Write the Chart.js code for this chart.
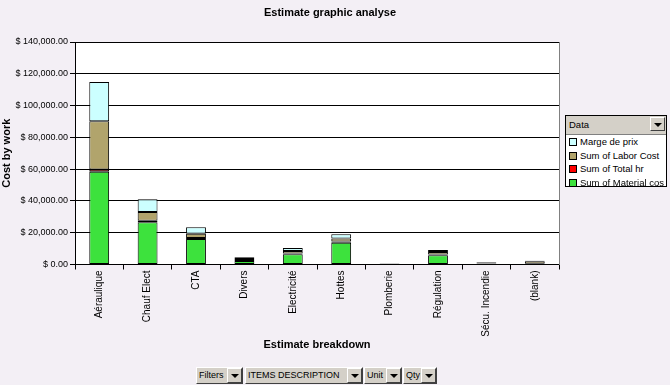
<!DOCTYPE html>
<html>
<head>
<meta charset="utf-8">
<script src="https://cdn.jsdelivr.net/npm/chart.js@4.4.1/dist/chart.umd.min.js"></script>
<style>
  html, body { margin: 0; padding: 0; }
  body { width: 670px; height: 385px; overflow: hidden; background: #f3eff5; font-family: Arial, "Liberation Sans", sans-serif; }
  #wrap { position: relative; width: 670px; height: 385px; }
  canvas { position: absolute; left: 0; top: 0; }
  .legend { position: absolute; left: 565px; top: 115px; width: 102px; height: 72px; border: 1px solid #000; background: #fff; box-sizing: border-box; }
  .lhead { height: 18px; background: #d4d0c8; border-bottom: 1px solid #808080; position: relative; font-size: 9.5px; line-height: 18px; padding-left: 3px; }
  .dd { position: absolute; top: 1px; right: 1px; width: 15px; height: 14px; background: #d4d0c8; border: 1px solid; border-color: #fff #404040 #404040 #fff; box-sizing: border-box; }
  .dd:after { content: ""; position: absolute; left: 3px; top: 5px; border-left: 4px solid transparent; border-right: 4px solid transparent; border-top: 4px solid #000; }
  .litem { height: 13.5px; font-size: 9.5px; line-height: 13.5px; white-space: nowrap; overflow: hidden; padding-left: 3px; }
  .sw { display: inline-block; width: 6px; height: 6px; border: 1px solid #000; margin-right: 3px; vertical-align: -1px; }
  .fbtn { position: absolute; top: 367px; height: 17px; background: #d4d0c8; border: 1px solid; border-color: #fff #404040 #404040 #fff; box-sizing: border-box; font-size: 9px; line-height: 15px; padding-left: 2px; white-space: nowrap; }
  .fbtn .dd { top: 0px; right: 0px; height: 15px; }
</style>
</head>
<body>
<div id="wrap">
  <canvas id="c" width="670" height="385"></canvas>
  <div class="legend" id="legend"></div>
</div>
<script>
const categories = ["Aéraulique", "Chauf Elect", "CTA", "Divers", "Electricité", "Hottes", "Plomberie", "Régulation", "Sécu. Incendie", "(blank)"];
const materialCost = [58400, 26600, 16000, 2200, 6500, 13700, 200, 5800, 400, 100];
const totalHr      = [1400, 1000, 600, 600, 500, 700, 200, 500, 400, 300];
const laborCost    = [30300, 5400, 2700, 1300, 1500, 2000, 200, 1500, 500, 1700];
const margeDePrix  = [24800, 8000, 4100, 400, 1900, 2600, 150, 1400, 300, 300];
const yTickValues  = [0, 20000, 40000, 60000, 80000, 100000, 120000, 140000];
const seriesNames  = ["Sum of Material cos", "Sum of Total hr", "Sum of Labor Cost", "Marge de prix"];
const fieldButtons = ["Filters", "ITEMS DESCRIPTION", "Unit", "Qty"];
const chartTitle = "Estimate graphic analyse";
const xTitle = "Estimate breakdown";
const yTitle = "Cost by work";
const legendTitle = "Data";

const colors = ["#3de23d", "#ff0000", "#b1a46c", "#ccffff"];
const FONT = "Arial, 'Liberation Sans', sans-serif";

const plotBg = {
  id: 'plotBg',
  beforeDraw(chart) {
    const a = chart.chartArea, ctx = chart.ctx;
    ctx.save();
    ctx.fillStyle = '#ffffff';
    ctx.fillRect(a.left, a.top, a.right - a.left, a.bottom - a.top);
    ctx.restore();
  },
  afterDatasetsDraw(chart) {
    const a = chart.chartArea, ctx = chart.ctx;
    ctx.save();
    ctx.strokeStyle = '#808080';
    ctx.lineWidth = 1;
    ctx.beginPath();
    const r = Math.round(a.right) + 0.5;
    ctx.moveTo(r, Math.round(a.top)); ctx.lineTo(r, Math.round(a.bottom));
    ctx.stroke();
    ctx.restore();
  },
  afterDraw(chart) {
    const ctx = chart.ctx;
    ctx.save();
    ctx.font = "bold 11px " + FONT;
    ctx.fillStyle = '#000';
    ctx.textAlign = 'center';
    ctx.textBaseline = 'middle';
    ctx.fillText(chartTitle, 330, 12.5);
    ctx.restore();
  }
};

const data = [materialCost, totalHr, laborCost, margeDePrix];
const chart = new Chart(document.getElementById('c'), {
  type: 'bar',
  data: {
    labels: categories,
    datasets: data.map((d, i) => ({
      label: seriesNames[i],
      data: d,
      backgroundColor: colors[i],
      borderColor: '#000',
      borderWidth: 1,
      borderSkipped: false,
      categoryPercentage: 1,
      barPercentage: 0.41
    }))
  },
  plugins: [plotBg],
  options: {
    responsive: false,
    animation: false,
    devicePixelRatio: 1,
    layout: { padding: { left: 0, right: 111, top: 42, bottom: 0 } },
    plugins: {
      legend: { display: false },
      tooltip: { enabled: false },
      title: { display: false }
    },
    scales: {
      x: {
        stacked: true,
        afterFit(s) { s.height = 120.5; },
        grid: { display: true, drawOnChartArea: false, drawTicks: true, tickLength: 5, color: '#000', offset: true },
        border: { display: true, color: '#000' },
        ticks: { color: '#000', font: { family: FONT, size: 10 }, maxRotation: 90, minRotation: 90, padding: 1, autoSkip: false },
        title: { display: true, text: xTitle, color: '#000', font: { family: FONT, size: 11, weight: 'bold' }, padding: { top: 4, bottom: 33 } }
      },
      y: {
        stacked: true,
        min: 0, max: 140000,
        afterFit(s) { s.width = 75; },
        afterBuildTicks(s) { s.ticks = yTickValues.map(v => ({ value: v })); },
        grid: { color: '#000', drawTicks: true, tickLength: 5 },
        border: { display: true, color: '#000' },
        ticks: {
          color: '#000', font: { family: FONT, size: 9 }, padding: 2,
          callback: v => '$ ' + Number(v).toLocaleString('en-US', { minimumFractionDigits: 2, maximumFractionDigits: 2 })
        },
        title: { display: true, text: yTitle, color: '#000', font: { family: FONT, size: 11, weight: 'bold' }, padding: { top: 0, bottom: 0 } }
      }
    }
  }
});

// Legend (Excel pivot style) built from datasets, reverse order
const leg = document.getElementById('legend');
let html = '<div class="lhead">' + legendTitle + '<span class="dd"></span></div>';
chart.data.datasets.slice().reverse().forEach(ds => {
  html += '<div class="litem"><span class="sw" style="background:' + ds.backgroundColor + '"></span>' + ds.label + '</div>';
});
leg.innerHTML = html;

// Field buttons
const btnPos = [[196, 47], [245, 118], [364, 38], [403, 34]];
const wrap = document.getElementById('wrap');
fieldButtons.forEach((t, i) => {
  const b = document.createElement('div');
  b.className = 'fbtn';
  b.style.left = btnPos[i][0] + 'px';
  b.style.width = btnPos[i][1] + 'px';
  b.innerHTML = t + '<span class="dd"></span>';
  wrap.appendChild(b);
});
</script>
</body>
</html>
